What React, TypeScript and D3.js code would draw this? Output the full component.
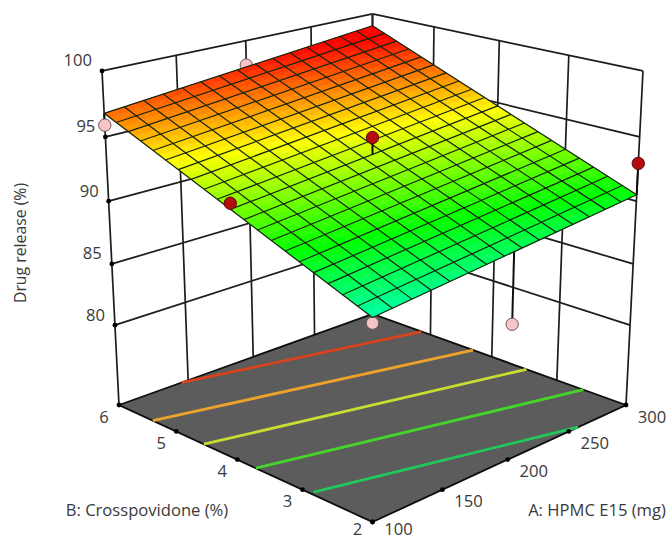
import React from "react";
import * as d3 from "d3";

const width = 670;
const height = 540;

// tick labels
const hpmcTicks = [100, 150, 200, 250, 300];
const crossTicks = [2, 3, 4, 5, 6];
const releaseTicks = [80, 85, 90, 95, 100];

// the fitted response is a flat plane, so its four corners describe it
const hpmcEnds = [100, 300];
const releaseAtCross2 = [88.3, 90.5];
const releaseAtCross6 = [96.8, 99.0];

// design points; the pink ones lie under the surface, the red ones over it
const pointHpmc = [100, 200, 100, 200, 300, 100, 265];
const pointCross = [6, 6, 4, 4, 2, 2, 3.1];
const pointRelease = [95.9, 98.05, 93.0, 94.95, 92.95, 87.9, 79.3];
const pointAbove = [false, false, true, true, true, false, false];

// contours on the floor, start and end of each line
const contourStartHpmc = [102, 100, 100, 100, 145];
const contourStartCross = [2.88, 3.71, 4.54, 5.4, 6];
const contourEndHpmc = [258, 300, 300, 300, 300];
const contourEndCross = [2, 2.61, 3.46, 4.3, 5.15];
const contourColors = ["#22c85a", "#45d42a", "#c8dc32", "#eda22c", "#d8431f"];

const meshCellsA = 15;
const meshCellsB = 20;
const paintSteps = 2;

const xA = d3.scaleLinear().domain([100, 300]).range([-1, 1]);
const xB = d3.scaleLinear().domain([2, 6]).range([-1, 1]);
const xZ = d3.scaleLinear().domain([73.3, 100]).range([0, 1]);

const colorScale = d3
  .scaleLinear<string>()
  .domain([83.2, 87, 90.8, 94.6, 98.4])
  .range(["#0000ff", "#00ffff", "#00ff00", "#ffff00", "#ff0000"])
  .clamp(true);

// perspective camera, looking at the corner where A = 100 and B = 2
const project = (hpmc: number, cross: number, release: number): [number, number] => {
  const a = xA(hpmc);
  const b = xB(cross);
  const h = xZ(release);
  const s = (a - b) / 2;
  const d = (a + b) / 2;
  const w = 1 + 0.125 * d - 0.0628 * h;
  return [372.5 + (253.5 * s) / w, (405 - 51.75 * d - 338.5 * h) / w];
};

const surfaceAt = (hpmc: number, cross: number) => {
  const t = (hpmc - hpmcEnds[0]) / (hpmcEnds[1] - hpmcEnds[0]);
  const low = d3.interpolateNumber(releaseAtCross2[0], releaseAtCross2[1])(t);
  const high = d3.interpolateNumber(releaseAtCross6[0], releaseAtCross6[1])(t);
  return d3.interpolateNumber(low, high)((cross - 2) / 4);
};

const line = d3.line();
const seg = (p: [number, number], q: [number, number]) => line([p, q]) as string;

const floorZ = xZ.domain()[0];
const topZ = 100;

const hpmcAt = (i: number, n: number) => 100 + (200 * i) / n;
const crossAt = (j: number, n: number) => 2 + (4 * j) / n;

const App = () => {
  const paintA = meshCellsA * paintSteps;
  const paintB = meshCellsB * paintSteps;
  const paint = d3.range(paintB).flatMap((j) =>
    d3.range(paintA).map((i) => {
      const a0 = hpmcAt(i, paintA);
      const a1 = hpmcAt(i + 1, paintA);
      const b0 = crossAt(j, paintB);
      const b1 = crossAt(j + 1, paintB);
      const corners: [number, number][] = [
        project(a0, b0, surfaceAt(a0, b0)),
        project(a1, b0, surfaceAt(a1, b0)),
        project(a1, b1, surfaceAt(a1, b1)),
        project(a0, b1, surfaceAt(a0, b1)),
      ];
      const fill = colorScale(surfaceAt((a0 + a1) / 2, (b0 + b1) / 2));
      return { d: line(corners) + "Z", fill };
    })
  );

  const floor = [
    project(100, 2, floorZ),
    project(300, 2, floorZ),
    project(300, 6, floorZ),
    project(100, 6, floorZ),
  ];

  const points = pointHpmc.map((hpmc, i) => {
    const cross = pointCross[i];
    const surface = surfaceAt(hpmc, cross);
    return {
      key: i,
      above: pointAbove[i],
      at: project(hpmc, cross, pointRelease[i]),
      foot: project(hpmc, cross, surface),
    };
  });

  const drawPoint = (p: (typeof points)[number]) => (
    <g key={p.key}>
      <path d={seg(p.at, p.foot)} stroke="#111" strokeWidth={2} />
      <circle
        cx={p.at[0]}
        cy={p.at[1]}
        r={6.2}
        fill={p.above ? "#b40808" : "#f6c3c6"}
        stroke={p.above ? "#5a0a0a" : "#6b5557"}
        strokeWidth={1}
      />
    </g>
  );

  const textStyle = { fontFamily: "'Open Sans', sans-serif", fontSize: 16.6, fill: "#3a3a3a" };
  // the lowest tick labels have to stay inside the picture
  const floorLabelY = (y: number) => Math.min(y + 11, 528.5);

  return (
    <svg
      width={width}
      height={height}
      style={{ position: "absolute", left: 0, top: 0, background: "#fff" }}
    >
      <defs>
        <filter id="soft" x="0" y="0" width="100%" height="100%">
          <feGaussianBlur stdDeviation={0.4} />
        </filter>
      </defs>
      <g filter="url(#soft)">
        {/* Walls */}
        <g stroke="#1c1c1c" strokeWidth={1.7} fill="none">
          {releaseTicks.map((z) => (
            <g key={z}>
              <path d={seg(project(100, 6, z), project(300, 6, z))} />
              <path d={seg(project(300, 6, z), project(300, 2, z))} />
            </g>
          ))}
          {hpmcTicks.map((v) => (
            <path key={v} d={seg(project(v, 6, floorZ), project(v, 6, topZ))} />
          ))}
          {crossTicks.map((v) => (
            <path key={v} d={seg(project(300, v, floorZ), project(300, v, topZ))} />
          ))}
        </g>

        {/* Floor and contours */}
        <path d={line(floor) + "Z"} fill="#5b5b5b" stroke="#0c0c0c" strokeWidth={1.8} />
        {contourColors.map((color, i) => (
          <path
            key={color}
            d={seg(
              project(contourStartHpmc[i], contourStartCross[i], floorZ),
              project(contourEndHpmc[i], contourEndCross[i], floorZ)
            )}
            stroke={color}
            strokeWidth={2.8}
          />
        ))}

        {/* Tick dots */}
        {releaseTicks.map((z) => {
          const [x, y] = project(100, 6, z);
          return <circle key={z} cx={x} cy={y} r={2.4} fill="#000" />;
        })}
        {crossTicks.map((v) => {
          const [x, y] = project(100, v, floorZ);
          return <circle key={v} cx={x} cy={y} r={2.4} fill="#000" />;
        })}
        {hpmcTicks.map((v) => {
          const [x, y] = project(v, 2, floorZ);
          return <circle key={v} cx={x} cy={y} r={2.4} fill="#000" />;
        })}

        {/* Points under the surface */}
        {points.filter((p) => !p.above).map(drawPoint)}

        {/* Surface */}
        {paint.map((c, i) => (
          <path key={i} d={c.d} fill={c.fill} stroke={c.fill} strokeWidth={0.5} />
        ))}
        <g stroke="#14240f" strokeWidth={1.2} fill="none">
          {d3.range(meshCellsA + 1).map((i) => {
            const hpmc = hpmcAt(i, meshCellsA);
            return (
              <path
                key={i}
                d={seg(project(hpmc, 2, surfaceAt(hpmc, 2)), project(hpmc, 6, surfaceAt(hpmc, 6)))}
              />
            );
          })}
          {d3.range(meshCellsB + 1).map((j) => {
            const cross = crossAt(j, meshCellsB);
            return (
              <path
                key={j}
                d={seg(project(100, cross, surfaceAt(100, cross)), project(300, cross, surfaceAt(300, cross)))}
              />
            );
          })}
        </g>

        {/* Points above the surface */}
        {points.filter((p) => p.above).map(drawPoint)}
      </g>

      {/* Labels */}
      <g style={textStyle} dominantBaseline="central">
        {releaseTicks.map((z) => {
          const [x, y] = project(100, 6, z);
          return (
            <text key={z} x={x - 10} y={y - 11} textAnchor="end">
              {z}
            </text>
          );
        })}
        {crossTicks.map((v) => {
          const [x, y] = project(100, v, floorZ);
          return (
            <text key={v} x={x - 15} y={floorLabelY(y)} textAnchor="middle">
              {v}
            </text>
          );
        })}
        {hpmcTicks.map((v) => {
          const [x, y] = project(v, 2, floorZ);
          return (
            <text key={v} x={x + 26} y={floorLabelY(y)} textAnchor="middle">
              {v}
            </text>
          );
        })}
        <text x={147} y={509} textAnchor="middle">
          B: Crosspovidone (%)
        </text>
        <text x={597} y={509} textAnchor="middle">
          A: HPMC E15 (mg)
        </text>
        <text transform="translate(20,243) rotate(-90)" textAnchor="middle" fontSize={15.8}>
          Drug release (%)
        </text>
      </g>
    </svg>
  );
};

export default App;
